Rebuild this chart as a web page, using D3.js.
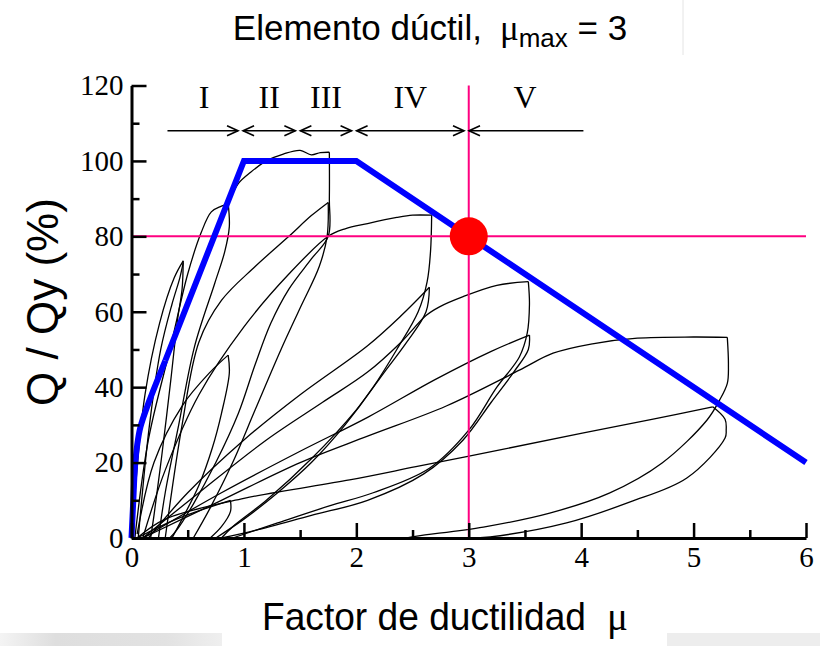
<!DOCTYPE html>
<html><head><meta charset="utf-8">
<script src="https://cdn.jsdelivr.net/npm/d3@7"></script>
<style>body{margin:0;background:#fff;} svg{display:block;} text{white-space:pre;}</style>
</head><body>
<svg id="chart" width="820" height="646"></svg>
<script>
// ---- data ----
const xTicks = [0,1,2,3,4,5,6];
const yTicks = [0,20,40,60,80,100,120];
const xMinor = [0.5,1.5,2.5,3.5,4.5,5.5];
const yMinor = [10,30,50,70,90,110];
const zoneLabels = ["I","II","III","IV","V"];
const zoneBounds = [0.32,0.97,1.48,1.98,2.98,4.02];
const zoneLevel = 108;
const targetMu = 3, targetQ = 80;
// idealised envelope (blue)
const envCurve = [[0,0],[0.016,10],[0.03,18.5],[0.05,24.5],[0.08,29.5],[0.16,36.5],[0.3,47]];
const envLinear = [[0.3,47],[1,100],[2,100],[6,20]];
// hysteresis branches (black)
const loadA1 = [[0.01,0],[0.04,15],[0.12,38],[0.25,57],[0.38,69],[0.46,73.5]];
const unloadA1 = [[0.46,73.5],[0.45,66],[0.41,58],[0.35,42],[0.27,22],[0.2,6],[0.17,0]];
const loadA2 = [[0.06,0],[0.16,30],[0.26,50],[0.36,62],[0.43,69],[0.46,73]];
const loadB1 = [[0.03,0],[0.15,26],[0.35,51],[0.5,70],[0.62,81],[0.71,86.5],[0.8,88],[0.86,88.7]];
const unloadB1 = [[0.86,88.7],[0.87,82.5],[0.83,76],[0.74,67.5],[0.56,50.7],[0.42,30],[0.3,12],[0.24,0]];
const loadB2 = [[0.05,1],[0.2,20],[0.45,35],[0.7,44],[0.86,48.5]];
const unloadB2 = [[0.86,48.5],[0.87,43.7],[0.8,33],[0.72,24],[0.6,14],[0.45,5],[0.36,0]];
const loadB3 = [[0.05,0],[0.4,5],[0.88,10]];
const unloadB3 = [[0.88,10],[0.88,7],[0.8,3],[0.7,0]];
const loadC1 = [[0.86,88.7],[0.95,94],[1.06,97],[1.2,100],[1.35,101.8],[1.5,102.8],[1.6,101.6],[1.68,102.2],[1.76,102.3]];
const unloadC1 = [[1.76,102.3],[1.76,90],[1.75,80],[1.6,74],[1.4,66],[1.24,57],[1.1,46],[0.95,33],[0.75,20],[0.55,9],[0.4,2],[0.34,0]];
const loadC2 = [[0.3,0],[0.45,30],[0.6,52],[0.8,63],[1.1,72],[1.4,80],[1.6,85.5],[1.75,89]];
const unloadC2 = [[1.75,89],[1.74,80],[1.67,72],[1.5,61],[1.33,50],[1.1,34],[0.9,20],[0.7,8],[0.55,0]];
const loadD1 = [[0.1,0],[0.3,18],[0.6,38],[1.0,56],[1.4,70],[1.75,80],[1.9,82],[2.1,83.4],[2.36,85],[2.5,85.6],[2.67,85.6]];
const unloadD1 = [[2.67,85.6],[2.66,76],[2.63,68],[2.55,60],[2.36,50],[2.15,40],[1.9,30],[1.6,20],[1.3,12],[1.0,5],[0.75,0]];
const loadD2 = [[0.15,0],[0.5,12],[1.0,26],[1.5,38],[2.1,51],[2.4,59],[2.65,66.5]];
const unloadD2 = [[2.65,66.5],[2.62,60],[2.45,52],[2.25,44],[2.0,34],[1.6,21],[1.2,10],[0.9,3],[0.8,0]];
const loadE1 = [[0.1,0],[0.6,12],[1.2,26],[1.7,36],[2.1,44],[2.4,52],[2.62,59],[2.74,61.3],[2.95,64],[3.25,67],[3.53,68]];
const unloadE1 = [[3.53,68],[3.54,62],[3.52,54.3],[3.45,48],[3.25,40],[3.0,28.6],[2.65,18.5],[2.15,12],[1.76,8.5],[1.3,4],[0.9,0]];
const loadE2 = [[0.1,0],[0.8,12],[1.5,23],[2.1,32],[2.7,42],[3.2,49.5],[3.54,53.8]];
const unloadE2 = [[3.54,53.8],[3.53,50],[3.4,44],[3.2,36],[2.95,26],[2.6,17],[2.1,10],[1.6,6],[1.1,2],[0.8,0]];
const loadF1 = [[0.1,0],[0.8,10],[1.5,20],[2.1,27],[2.8,35],[3.45,44.5],[3.75,49],[4.1,51.5],[4.5,53],[5.0,53.3],[5.3,53.2]];
const unloadF1 = [[5.3,53.2],[5.31,46],[5.3,41],[5.23,36.5],[5.12,31.3],[4.72,19.9],[4.25,11.9],[3.72,6.6],[3.13,2.9],[2.54,0.5],[2.45,0]];
const loadF2 = [[0.05,0],[0.3,5],[1.0,10.5],[1.94,15.4],[2.53,18.9],[3.3,23.5],[4.01,27.8],[4.64,31.5],[5.17,34.8]];
const unloadF2 = [[5.17,34.8],[5.28,31.5],[5.29,28.6],[5.28,26.5],[4.94,15.9],[4.43,9.5],[3.87,4],[3.19,0.3],[3.0,0]];
const branches = [loadA1,unloadA1,loadA2,loadB1,unloadB1,loadB2,unloadB2,loadB3,unloadB3,
  loadC1,unloadC1,loadC2,unloadC2,loadD1,unloadD1,loadD2,unloadD2,loadE1,unloadE1,loadE2,unloadE2,
  loadF1,unloadF1,loadF2,unloadF2];

// ---- drawing ----
const svg = d3.select("#chart");
const x = d3.scaleLinear().domain([0,6]).range([131.5,806]);
const y = d3.scaleLinear().domain([0,120]).range([538,85.5]);
const serif = "'Liberation Serif','Times New Roman',serif";
const sans = "'Liberation Sans',Arial,sans-serif";

// background decorations
const defs = svg.append("defs");
const gr = defs.append("linearGradient").attr("id","gl");
gr.append("stop").attr("offset","0").attr("stop-color","#f4f4f4");
gr.append("stop").attr("offset","0.25").attr("stop-color","#dedede");
gr.append("stop").attr("offset","0.75").attr("stop-color","#e2e2e2");
gr.append("stop").attr("offset","1").attr("stop-color","#efefef");
svg.append("rect").attr("x",0).attr("y",633).attr("width",222).attr("height",13).attr("fill","url(#gl)");
svg.append("rect").attr("x",667).attr("y",633).attr("width",153).attr("height",13).attr("fill","#ededed");
svg.append("line").attr("x1",683).attr("x2",683).attr("y1",0).attr("y2",55).attr("stroke","#e4e4e4").attr("stroke-width",1);

// hysteresis
const line = d3.line().x(d=>x(d[0])).y(d=>y(d[1]));
svg.append("g").selectAll("path").data(branches).join("path")
  .attr("d", line.curve(d3.curveCatmullRom.alpha(0.5)))
  .attr("fill","none").attr("stroke","#000").attr("stroke-width",1.3);

// pink guide lines
svg.append("line").attr("x1",x(0)).attr("x2",x(6)).attr("y1",y(targetQ)).attr("y2",y(targetQ))
  .attr("stroke","#ff0080").attr("stroke-width",2);
svg.append("line").attr("x1",x(targetMu)).attr("x2",x(targetMu)).attr("y1",y(120)).attr("y2",y(0))
  .attr("stroke","#ff0080").attr("stroke-width",2);

// blue envelope
svg.append("path").attr("d", d3.line().x(d=>x(d[0])).y(d=>y(d[1])).curve(d3.curveCatmullRom.alpha(0.5))(envCurve))
  .attr("fill","none").attr("stroke","#0000ff").attr("stroke-width",6);
svg.append("path").attr("d", d3.line().x(d=>x(d[0])).y(d=>y(d[1]))(envLinear))
  .attr("fill","none").attr("stroke","#0000ff").attr("stroke-width",6).attr("stroke-linejoin","miter");

// red dot
svg.append("circle").attr("cx",x(targetMu)).attr("cy",y(targetQ)).attr("r",19).attr("fill","#ff0000");

// zones
const zg = svg.append("g").attr("stroke","#000").attr("stroke-width",1.6).attr("fill","none");
const zy = y(zoneLevel);
zoneLabels.forEach((lab,i)=>{
  const a = x(zoneBounds[i]) + (i>0?2.5:0);
  const b = x(zoneBounds[i+1]) - (i<zoneLabels.length-1?2.5:0);
  zg.append("line").attr("x1",a).attr("x2",b).attr("y1",zy).attr("y2",zy);
  if(i>0) zg.append("path").attr("d",`M${a+11},${zy-5}L${a},${zy}L${a+11},${zy+5}`);
  if(i<zoneLabels.length-1) zg.append("path").attr("d",`M${b-11},${zy-5}L${b},${zy}L${b-11},${zy+5}`);
  svg.append("text").attr("x",(x(zoneBounds[i])+x(zoneBounds[i+1]))/2).attr("y",108)
    .attr("text-anchor","middle").attr("font-family",serif).attr("font-size",32).attr("fill","#000").text(lab);
});

// axes
function styleAxis(g){
  g.select(".domain").attr("stroke","#000").attr("stroke-width",3);
  g.selectAll(".tick line").attr("stroke","#000").attr("stroke-width",2.5);
  g.selectAll("text").attr("font-family",serif).attr("font-size",29).attr("fill","#000");
}
const gx = svg.append("g").attr("transform",`translate(0,${y(0)})`)
  .call(d3.axisBottom(x).tickValues(xTicks).tickSizeInner(-15).tickSizeOuter(0).tickPadding(8).tickFormat(d3.format("d")));
styleAxis(gx);
const gxm = svg.append("g").attr("transform",`translate(0,${y(0)})`)
  .call(d3.axisBottom(x).tickValues(xMinor).tickSizeInner(-8).tickSizeOuter(0).tickFormat(""));
styleAxis(gxm); gxm.select(".domain").remove();
const gy = svg.append("g").attr("transform",`translate(${x(0)},0)`)
  .call(d3.axisLeft(y).tickValues(yTicks).tickSizeInner(-15).tickSizeOuter(0).tickPadding(8).tickFormat(d3.format("d")));
styleAxis(gy);
gy.selectAll("text").attr("dy","0.32em");
const gym = svg.append("g").attr("transform",`translate(${x(0)},0)`)
  .call(d3.axisLeft(y).tickValues(yMinor).tickSizeInner(-8).tickSizeOuter(0).tickFormat(""));
styleAxis(gym); gym.select(".domain").remove();

// titles
const t = svg.append("text").attr("x",430).attr("y",40).attr("text-anchor","middle")
  .attr("font-family",sans).attr("font-size",35).attr("fill","#000");
t.append("tspan").text("Elemento dúctil,");
t.append("tspan").attr("dx",18).attr("font-family",serif).text("μ");
t.append("tspan").attr("font-size",26).attr("dy",7).text("max");
t.append("tspan").attr("dy",-7).text(" = 3");

const xl = svg.append("text").attr("y",630)
  .attr("font-family",sans).attr("font-size",39).attr("fill","#000");
xl.append("tspan").attr("x",262).attr("textLength",324).attr("lengthAdjust","spacingAndGlyphs").text("Factor de ductilidad");
xl.append("tspan").attr("x",607).attr("font-family",serif).text("μ");

svg.append("text").attr("transform","translate(58,302) rotate(-90)").attr("text-anchor","middle")
  .attr("font-family",sans).attr("font-size",44).attr("fill","#000").text("Q / Qy (%)");
</script></body></html>
